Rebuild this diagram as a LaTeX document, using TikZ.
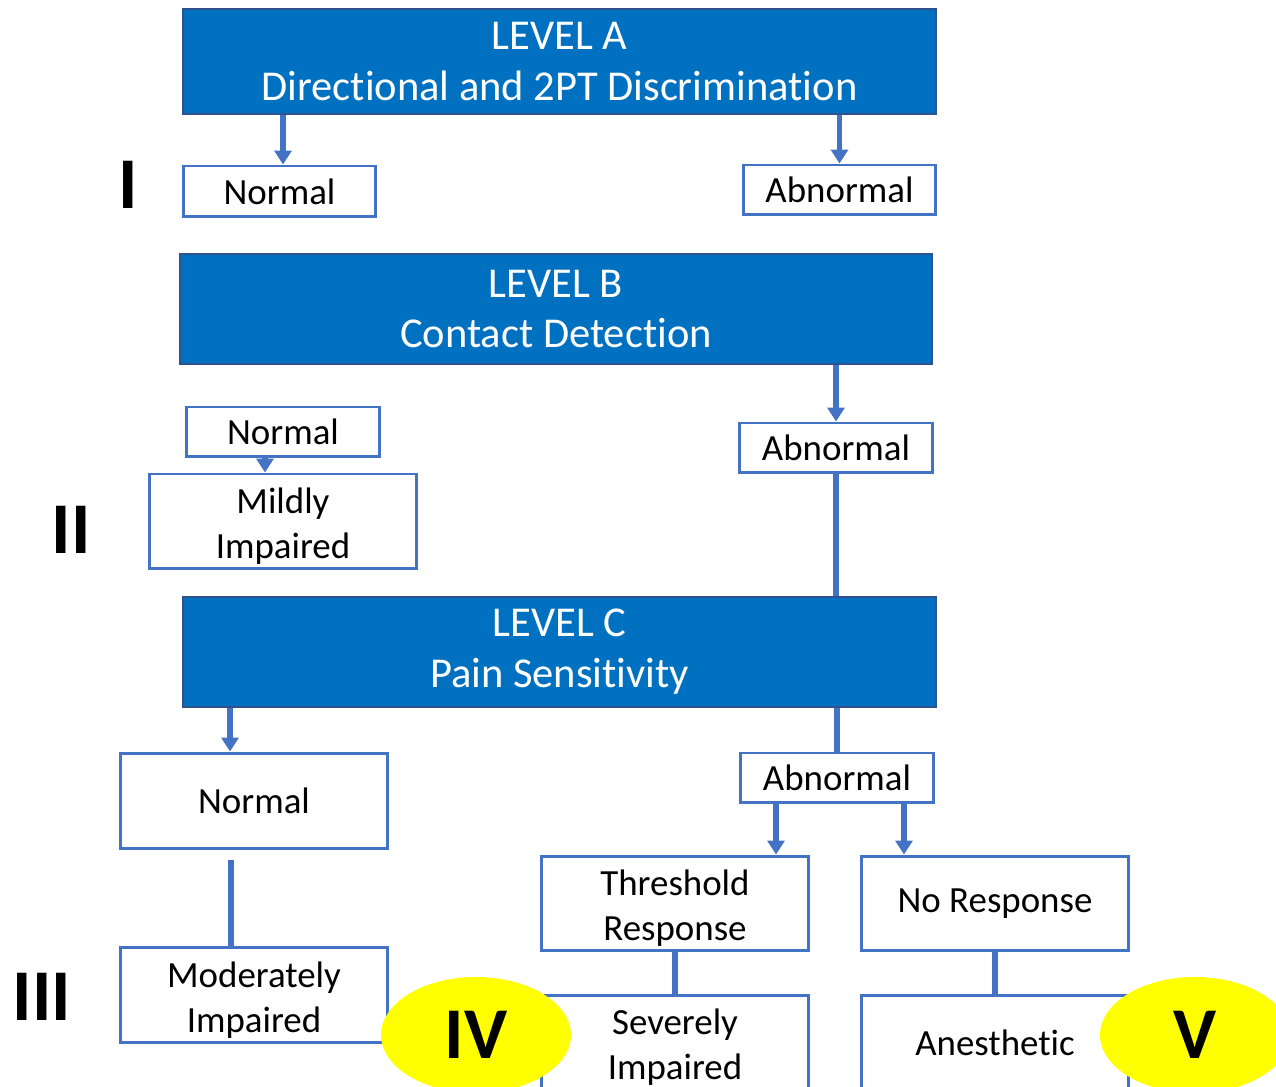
\documentclass[tikz,border=0pt]{standalone}
\usepackage{fontspec}
\setmainfont{Carlito}[Ligatures=NoCommon]
\usetikzlibrary{arrows.meta, positioning, shapes.geometric}
\definecolor{levelblue}{RGB}{0,112,192}
\definecolor{leveledge}{RGB}{47,82,143}
\definecolor{linkblue}{RGB}{68,114,196}
\definecolor{markyellow}{RGB}{255,255,0}

\begin{document}
\begin{tikzpicture}[x=0.02cm, y=-0.02cm,
  level/.style={draw=leveledge, line width=1.2pt, fill=levelblue, text=white, inner sep=0pt,
    minimum width=15.06cm, minimum height=2.2cm, align=center, font=\fontsize{24.2}{29}\selectfont},
  result/.style={draw=linkblue, line width=1.7pt, fill=white, inner sep=0pt, align=center,
    font=\fontsize{21}{25.6}\selectfont},
  small/.style={result, minimum width=3.86cm, minimum height=1.0cm},
  large/.style={result, minimum width=5.36cm, minimum height=1.9cm},
  grade/.style={font=\fontsize{41.5}{45}\selectfont\bfseries},
  badge/.style={ellipse, fill=markyellow, inner sep=0pt, minimum width=3.8cm, minimum height=2.32cm,
    font=\fontsize{41.5}{45}\selectfont\bfseries},
  arr/.style={draw=linkblue, line width=3.3pt, -{Triangle[width=0.34cm,length=0.28cm]}},
  link/.style={draw=linkblue, line width=3.3pt}]

  \useasboundingbox (0,0) rectangle (1276,1087);

  % level A
  \node[level, minimum height=2.1cm] (lvlA) at (559.5,61.5) {LEVEL A\\Directional and 2PT Discrimination};
  \node[small, minimum height=1.02cm] (normA) at (279.5,191.5) {Normal};
  \node[small] (abnA) at (839.5,190) {Abnormal};
  \node[grade] (gI) at (128,185) {I};

  % level B
  \node[level, minimum width=15.04cm] (lvlB) at (556,309) {LEVEL B\\Contact Detection};
  \node[small] (normB) at (283,432) {Normal};
  \node[large] (mild) at (283,521.5) {\rule{0pt}{0.7cm}Mildly\\Impaired};
  \node[small] (abnB) at (836,448) {Abnormal};
  \node[grade] (gII) at (71,530) {II};

  % level C
  \node[level] (lvlC) at (559.5,652) {LEVEL C\\Pain Sensitivity};
  \node[large, minimum height=1.92cm] (normC) at (254,801) {Normal};
  \node[large, minimum height=1.92cm] (mod) at (254,995) {\rule{0pt}{0.7cm}Moderately\\Impaired};
  \node[small] (abnC) at (837,778) {Abnormal};
  \node[large] (thr) at (675,903.5) {\rule{0pt}{0.7cm}Threshold\\Response};
  \node[large] (noresp) at (995,903.5) {No Response};
  \node[large] (sev) at (675,1042.5) {\rule{0pt}{0.7cm}Severely\\Impaired};
  \node[large] (anest) at (995,1042.5) {Anesthetic};
  \node[grade] (gIII) at (42,997) {III};

  % connectors
  \draw[arr] (lvlA.south -| normA.north) ++(3.5,0) -- ([xshift=0.07cm]normA.north);
  \draw[arr] (lvlA.south -| abnA.north) -- (abnA.north);
  \draw[arr] (lvlB.south -| abnB.north) -- (abnB.north);
  \draw[arr] ([xshift=-0.36cm]normB.south) -- ([xshift=-0.36cm]normB.south |- mild.north);
  \draw[link] (abnB.south) -- (abnB.south |- lvlC.north);
  \draw[arr] ([xshift=-0.48cm]normC.north |- lvlC.south) -- ([xshift=-0.48cm]normC.north);
  \draw[link] (abnC.north |- lvlC.south) -- (abnC.north);
  \draw[arr] ([xshift=-1.22cm]abnC.south) -- ([xshift=-1.22cm]abnC.south |- thr.north);
  \draw[arr] ([xshift=1.34cm]abnC.south) -- ([xshift=1.34cm]abnC.south |- noresp.north);
  \draw[link] ([xshift=-0.46cm, yshift=-0.2cm]normC.south) -- ([xshift=-0.46cm]mod.north);
  \draw[link] (thr.south) -- (sev.north);
  \draw[link] (noresp.south) -- (anest.north);

  % grade marks
  \node[badge] (gIV) at (476,1035) {IV};
  \node[badge] (gV) at (1195,1035) {V};

\end{tikzpicture}
\end{document}
